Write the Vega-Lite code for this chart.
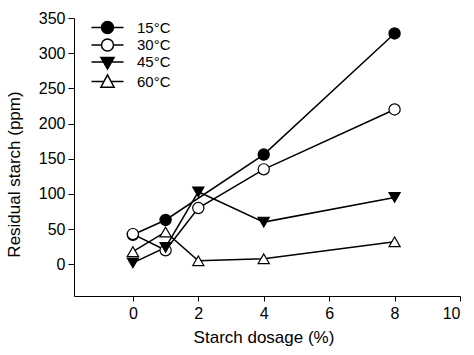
{
  "$schema": "https://vega.github.io/schema/vega-lite/v6.json",
  "width": 386,
  "height": 278,
  "autosize": "none",
  "padding": {"left": 74, "top": 18, "right": 14, "bottom": 59},
  "background": "white",
  "config": {
    "view": {"stroke": null},
    "font": "Liberation Sans",
    "axis": {
      "grid": false,
      "domainColor": "black",
      "tickColor": "black",
      "labelColor": "black",
      "titleColor": "black",
      "domainWidth": 1,
      "tickWidth": 1,
      "labelFont": "Liberation Sans",
      "titleFont": "Liberation Sans",
      "labelFontSize": 16,
      "titleFontSize": 17,
      "titleFontWeight": "normal"
    },
    "legend": {
      "orient": "none",
      "legendX": 26,
      "legendY": 2,
      "padding": 0,
      "symbolSize": 144,
      "symbolOpacity": 1,
      "symbolStrokeWidth": 1.5,
      "labelFontSize": 15,
      "labelColor": "black",
      "labelFont": "Liberation Sans",
      "labelOffset": 22,
      "rowPadding": -1.5
    }
  },
  "data": {
    "values": [
      {"series": "15°C", "dosage": 0, "starch": 42},
      {"series": "15°C", "dosage": 1, "starch": 63},
      {"series": "15°C", "dosage": 4, "starch": 156},
      {"series": "15°C", "dosage": 8, "starch": 328},
      {"series": "30°C", "dosage": 0, "starch": 43},
      {"series": "30°C", "dosage": 1, "starch": 20},
      {"series": "30°C", "dosage": 2, "starch": 80},
      {"series": "30°C", "dosage": 4, "starch": 135},
      {"series": "30°C", "dosage": 8, "starch": 220},
      {"series": "45°C", "dosage": 0, "starch": 2},
      {"series": "45°C", "dosage": 1, "starch": 24},
      {"series": "45°C", "dosage": 2, "starch": 103},
      {"series": "45°C", "dosage": 4, "starch": 60},
      {"series": "45°C", "dosage": 8, "starch": 95},
      {"series": "60°C", "dosage": 0, "starch": 18},
      {"series": "60°C", "dosage": 1, "starch": 46},
      {"series": "60°C", "dosage": 2, "starch": 5},
      {"series": "60°C", "dosage": 4, "starch": 8},
      {"series": "60°C", "dosage": 8, "starch": 32}
    ]
  },
  "encoding": {
    "x": {
      "field": "dosage",
      "type": "quantitative",
      "scale": {"domain": [-1.8, 10], "nice": false, "zero": false},
      "axis": {
        "title": "Starch dosage (%)",
        "values": [0, 2, 4, 6, 8, 10],
        "tickSize": 5,
        "labelPadding": 17,
        "labelBaseline": "alphabetic",
        "titleBaseline": "alphabetic",
        "titleX": 189.5,
        "titleY": 46
      }
    },
    "y": {
      "field": "starch",
      "type": "quantitative",
      "scale": {"domain": [-45, 350], "nice": false, "zero": false},
      "axis": {
        "title": "Residual starch (ppm)",
        "values": [0, 50, 100, 150, 200, 250, 300, 350],
        "tickSize": 6,
        "labelPadding": 3,
        "titleBaseline": "alphabetic",
        "titleAngle": -90,
        "titleX": -55,
        "titleY": 156
      }
    }
  },
  "layer": [
    {
      "mark": {"type": "line", "color": "black", "strokeWidth": 1.5},
      "encoding": {"detail": {"field": "series"}}
    },
    {
      "mark": {"type": "point", "filled": true, "opacity": 1, "stroke": "black", "strokeWidth": 1.2, "size": 125},
      "encoding": {
        "shape": {
          "field": "series",
          "type": "nominal",
          "scale": {"domain": ["15°C", "30°C", "45°C", "60°C"], "range": ["circle", "circle", "triangle-down", "triangle-up"]},
          "legend": null
        },
        "fill": {
          "field": "series",
          "type": "nominal",
          "scale": {"domain": ["15°C", "30°C", "45°C", "60°C"], "range": ["black", "white", "black", "white"]},
          "legend": null
        }
      }
    },
    {
      "transform": [{"filter": "false"}],
      "mark": {"type": "point", "filled": true, "opacity": 1, "stroke": "black", "strokeWidth": 1.5, "size": 144},
      "encoding": {
        "shape": {
          "field": "series",
          "type": "nominal",
          "scale": {
            "domain": ["15°C", "30°C", "45°C", "60°C"],
            "range": [
              "M-2.67,0H-1M1,0H2.67M-1,0A1,1,0,1,0,1,0A1,1,0,1,0,-1,0Z",
              "M-2.67,0H-1M1,0H2.67M-1,0A1,1,0,1,0,1,0A1,1,0,1,0,-1,0Z",
              "M-2.67,0H-0.67M0.67,0H2.67M-1.1,-0.75L1.1,-0.75L0,1.15Z",
              "M-2.67,0H-0.59M0.59,0H2.67M-1.1,0.95L1.1,0.95L0,-1.1Z"
            ]
          },
          "legend": {"title": null}
        },
        "fill": {
          "field": "series",
          "type": "nominal",
          "scale": {"domain": ["15°C", "30°C", "45°C", "60°C"], "range": ["black", "white", "black", "white"]},
          "legend": {"title": null}
        }
      }
    }
  ],
  "resolve": {"scale": {"shape": "independent", "fill": "independent"}}
}
